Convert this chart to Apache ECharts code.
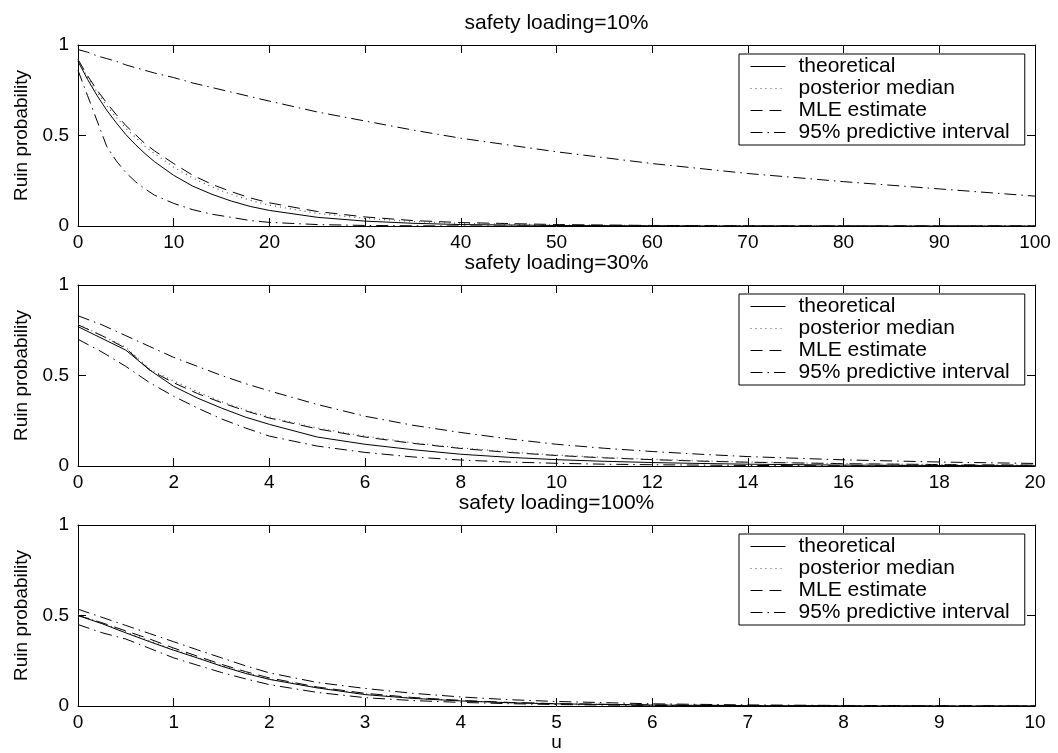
<!DOCTYPE html>
<html>
<head>
<meta charset="utf-8">
<script src="https://cdn.jsdelivr.net/npm/echarts@6/dist/echarts.min.js"></script>
<style>
  html, body { margin: 0; padding: 0; background: #fff; }
  #chart { width: 1058px; height: 753px; }
</style>
</head>
<body>
<div id="chart"></div>
<script>
// names of the curves
var seriesNames = ['theoretical', 'posterior median', 'MLE estimate', '95% predictive interval'];
var panelTitles = ['safety loading=10%', 'safety loading=30%', 'safety loading=100%'];

// panel 1: safety loading 10%, u from 0 to 100
var u1 = [0, 1, 2, 3, 4, 5, 6, 7, 8, 10, 12, 14, 16, 18, 20, 25, 30, 35, 40, 50, 60, 70, 80, 90, 100];
var theo1 = [0.91, 0.81, 0.72, 0.64, 0.57, 0.505, 0.45, 0.40, 0.355, 0.28, 0.22, 0.175, 0.138, 0.108, 0.086, 0.048, 0.027, 0.015, 0.008, 0.003, 0.001, 0, 0, 0, 0];
var post1 = [0.92, 0.82, 0.74, 0.665, 0.60, 0.54, 0.49, 0.44, 0.40, 0.325, 0.265, 0.215, 0.175, 0.142, 0.115, 0.07, 0.042, 0.025, 0.015, 0.006, 0.002, 0.001, 0, 0, 0];
var mle1 = [0.92, 0.83, 0.75, 0.68, 0.615, 0.555, 0.505, 0.455, 0.415, 0.345, 0.28, 0.23, 0.19, 0.155, 0.128, 0.08, 0.05, 0.03, 0.019, 0.008, 0.003, 0.001, 0, 0, 0];
var upper1 = [0.975, 0.96, 0.94, 0.925, 0.91, 0.89, 0.875, 0.86, 0.845, 0.82, 0.79, 0.765, 0.74, 0.715, 0.69, 0.63, 0.58, 0.53, 0.485, 0.41, 0.345, 0.29, 0.245, 0.205, 0.165];
var lower1 = [0.86, 0.72, 0.58, 0.44, 0.36, 0.295, 0.245, 0.205, 0.17, 0.125, 0.09, 0.065, 0.048, 0.03, 0.02, 0.008, 0.003, 0.001, 0, 0, 0, 0, 0, 0, 0];

// panel 2: safety loading 30%, u from 0 to 20
var u2 = [0, 0.5, 1, 1.5, 2, 2.5, 3, 3.5, 4, 5, 6, 7, 8, 9, 10, 11, 12, 13, 14, 16, 18, 20];
var theo2 = [0.77, 0.705, 0.64, 0.53, 0.44, 0.375, 0.32, 0.27, 0.23, 0.16, 0.12, 0.09, 0.065, 0.048, 0.035, 0.026, 0.019, 0.014, 0.01, 0.005, 0.003, 0.001];
var post2 = [0.785, 0.72, 0.655, 0.535, 0.47, 0.41, 0.355, 0.31, 0.27, 0.21, 0.165, 0.128, 0.1, 0.078, 0.06, 0.047, 0.037, 0.029, 0.022, 0.013, 0.008, 0.005];
var mle2 = [0.78, 0.72, 0.65, 0.53, 0.46, 0.40, 0.35, 0.305, 0.265, 0.205, 0.16, 0.125, 0.097, 0.075, 0.058, 0.045, 0.035, 0.027, 0.021, 0.013, 0.008, 0.005];
var upper2 = [0.83, 0.78, 0.72, 0.66, 0.60, 0.55, 0.50, 0.455, 0.415, 0.34, 0.275, 0.225, 0.185, 0.15, 0.12, 0.098, 0.08, 0.065, 0.052, 0.034, 0.022, 0.014];
var lower2 = [0.70, 0.63, 0.55, 0.46, 0.385, 0.32, 0.26, 0.21, 0.165, 0.11, 0.075, 0.05, 0.033, 0.022, 0.015, 0.01, 0.007, 0.005, 0.003, 0.001, 0, 0];

// panel 3: safety loading 100%, u from 0 to 10
var u3 = [0, 0.25, 0.5, 0.75, 1, 1.25, 1.5, 1.75, 2, 2.5, 3, 3.5, 4, 4.5, 5, 6, 7, 8, 9, 10];
var theo3 = [0.5, 0.455, 0.404, 0.355, 0.308, 0.265, 0.22, 0.18, 0.147, 0.1, 0.063, 0.042, 0.028, 0.018, 0.012, 0.005, 0.002, 0.001, 0, 0];
var post3 = [0.505, 0.458, 0.41, 0.36, 0.312, 0.268, 0.225, 0.185, 0.15, 0.102, 0.067, 0.044, 0.029, 0.019, 0.012, 0.005, 0.002, 0.001, 0, 0];
var mle3 = [0.5, 0.46, 0.415, 0.37, 0.32, 0.275, 0.23, 0.19, 0.155, 0.105, 0.07, 0.047, 0.031, 0.02, 0.013, 0.006, 0.002, 0.001, 0, 0];
var upper3 = [0.535, 0.49, 0.445, 0.4, 0.355, 0.31, 0.266, 0.222, 0.183, 0.13, 0.097, 0.07, 0.05, 0.035, 0.025, 0.012, 0.006, 0.003, 0.001, 0];
var lower3 = [0.45, 0.405, 0.37, 0.318, 0.266, 0.225, 0.185, 0.15, 0.118, 0.075, 0.046, 0.03, 0.02, 0.013, 0.008, 0.003, 0.001, 0, 0, 0];

// x axis range per panel
var xMax = [100, 20, 10];
var xStep = [10, 2, 1];

var FONT = 'Liberation Sans';
var panels = [
    { u: u1, curves: [theo1, post1, mle1, upper1, lower1] },
    { u: u2, curves: [theo2, post2, mle2, upper2, lower2] },
    { u: u3, curves: [theo3, post3, mle3, upper3, lower3] }
];

// line styles: solid, dotted, dashed, dash-dot (upper and lower)
var styles = [
    { type: 'solid', color: '#000', width: 1 },
    { type: [1, 4], color: '#555', width: 1.2 },
    { type: [12, 7], color: '#000', width: 1 },
    { type: [12, 5, 1.5, 5], color: '#000', width: 1 },
    { type: [12, 5, 1.5, 5], color: '#000', width: 1 }
];
var curveNames = [seriesNames[0], seriesNames[1], seriesNames[2], seriesNames[3], seriesNames[3]];

var gridTops = [45, 285, 525];
var grids = [], xAxes = [], yAxes = [], series = [], legends = [];

function pairs(xs, ys) {
    return xs.map(function (x, i) { return [x, ys[i]]; });
}

gridTops.forEach(function (top, i) {
    grids.push({ left: 78, right: 23, top: top, height: 181, containLabel: false });

    // bottom x axis with labels
    xAxes.push({
        type: 'value', gridIndex: i, position: 'bottom',
        min: 0, max: xMax[i], interval: xStep[i],
        axisLine: { show: true, onZero: false, lineStyle: { color: '#000', width: 1 } },
        axisTick: { show: true, inside: true, length: 8, lineStyle: { color: '#000' } },
        axisLabel: { color: '#000', fontSize: 19, fontFamily: FONT, margin: 7 },
        splitLine: { show: false },
        name: i === 2 ? 'u' : '',
        nameLocation: 'middle', nameGap: 27,
        nameTextStyle: { color: '#000', fontSize: 19, fontFamily: FONT }
    });
    // top x axis: ticks only, carries the panel title
    xAxes.push({
        type: 'value', gridIndex: i, position: 'top',
        min: 0, max: xMax[i], interval: xStep[i],
        axisLine: { show: true, onZero: false, lineStyle: { color: '#000', width: 1 } },
        axisTick: { show: true, inside: true, length: 8, lineStyle: { color: '#000' } },
        axisLabel: { show: false },
        splitLine: { show: false },
        name: panelTitles[i],
        nameLocation: 'middle', nameGap: 11,
        nameTextStyle: { color: '#000', fontSize: 21, fontFamily: FONT }
    });
    yAxes.push({
        type: 'value', gridIndex: i, position: 'left',
        min: 0, max: 1, interval: 0.5,
        axisLine: { show: true, onZero: false, lineStyle: { color: '#000', width: 1 } },
        axisTick: { show: true, inside: true, length: 8, lineStyle: { color: '#000' } },
        axisLabel: { color: '#000', fontSize: 19, fontFamily: FONT, margin: 9 },
        splitLine: { show: false },
        name: 'Ruin probability',
        nameLocation: 'middle', nameGap: 46,
        nameTextStyle: { color: '#000', fontSize: 19, fontFamily: FONT }
    });
    yAxes.push({
        type: 'value', gridIndex: i, position: 'right',
        min: 0, max: 1, interval: 0.5,
        axisLine: { show: true, onZero: false, lineStyle: { color: '#000', width: 1 } },
        axisTick: { show: true, inside: true, length: 8, lineStyle: { color: '#000' } },
        axisLabel: { show: false },
        splitLine: { show: false }
    });

    var p = panels[i];
    p.curves.forEach(function (ys, k) {
        series.push({
            type: 'line',
            name: curveNames[k],
            xAxisIndex: 2 * i,
            yAxisIndex: 2 * i,
            data: pairs(p.u, ys),
            symbol: 'none',
            smooth: false,
            silent: true,
            animation: false,
            itemStyle: { color: '#000' },
            lineStyle: styles[k],
            z: 5 - k
        });
    });

    legends.push({
        orient: 'vertical',
        left: 739, top: top + 9,
        data: seriesNames,
        backgroundColor: '#fff',
        borderColor: '#000', borderWidth: 1, borderRadius: 0,
        padding: [2, 15, 2, 11],
        itemGap: 1,
        itemWidth: 35, itemHeight: 14,
        itemStyle: { opacity: 0 },
        lineStyle: { width: 1 },
        selectedMode: false,
        textStyle: { color: '#000', fontSize: 21, fontFamily: FONT, lineHeight: 21, padding: [0, 0, 0, 8] }
    });
});

var chart = echarts.init(document.getElementById('chart'), null, { renderer: 'canvas' });
chart.setOption({
    animation: false,
    backgroundColor: '#fff',
    grid: grids,
    xAxis: xAxes,
    yAxis: yAxes,
    legend: legends,
    series: series
});
</script>
</body>
</html>
